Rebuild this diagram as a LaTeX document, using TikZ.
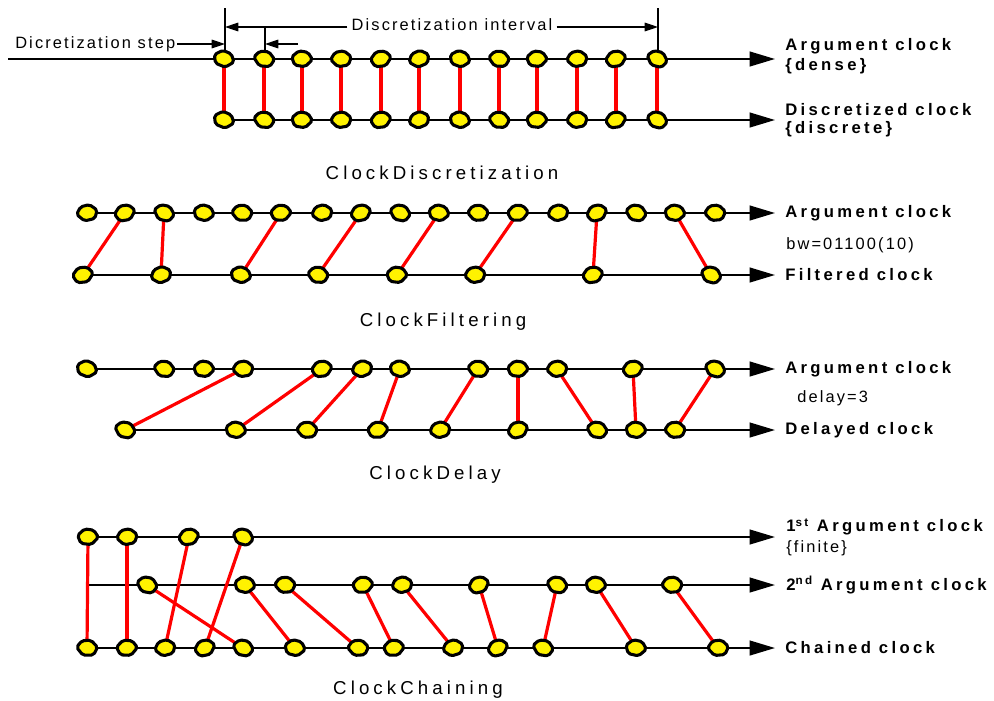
\documentclass[tikz,border=0pt]{standalone}
\usepackage{fontspec}
\setmainfont{Liberation Sans}
\newfontfamily\lblfont[LetterSpace=20]{Liberation Sans}
\newfontfamily\txtfont[LetterSpace=13]{Liberation Sans}
\newfontfamily\captfont[LetterSpace=22]{Liberation Sans}
\usetikzlibrary{arrows.meta}
\begin{document}
\begin{tikzpicture}[x=0.75pt,y=-0.75pt,
  clkline/.style={line width=1.6pt,-{Triangle[length=19pt,width=11pt]}},
  plainline/.style={line width=1.6pt},
  link/.style={red,line width=2.4pt},
  dim/.style={line width=0.8pt},
  dimarrow/.style={line width=0.8pt,-{Triangle[length=10pt,width=6.5pt]}},
  lab/.style={anchor=west,inner sep=0pt,font=\lblfont\bfseries\fontsize{12.5}{14}\selectfont},
  note/.style={anchor=west,inner sep=0pt,font=\txtfont\fontsize{12.3}{14}\selectfont},
  capt/.style={inner sep=0pt,font=\captfont\fontsize{14}{16}\selectfont},
  clk/.pic={\draw[line width=2.3pt,fill=yellow,rounded corners=1.5pt,line join=round]
     (-10.5,0) -- (-5.5,-7) -- (3.5,-8) -- (10.5,-1.5) -- (7,6.5) -- (-3.5,7.5) -- cycle;}
]
\useasboundingbox (0,0) rectangle (994,700);

% ---------------- coordinates ----------------
\foreach \x [count=\i] in {224,264,302,341,381,419,460,499,537,577,616,657}
  {\coordinate (d\i) at (\x,59); \coordinate (e\i) at (\x,120);}
\foreach \x [count=\i] in {87,125,164,204,242,281,322,361,400,439,478,518,558,597,636,675,715}
  {\coordinate (f\i) at (\x,213);}
\foreach \x [count=\i] in {83,161,241,318,397,475,593,711}
  {\coordinate (g\i) at (\x,275);}
\foreach \x [count=\i] in {87,164,204,243,322,362,400,478,518,557,633,715}
  {\coordinate (h\i) at (\x,369);}
\foreach \x [count=\i] in {125,236,307,378,440,518,597,636,675}
  {\coordinate (k\i) at (\x,430);}
\foreach \x [count=\i] in {88,127,189,243}
  {\coordinate (m\i) at (\x,537);}
\foreach \x [count=\i] in {147,245,285,363,402,479,557,596,672}
  {\coordinate (n\i) at (\x,585);}
\foreach \x [count=\i] in {87,127,165,205,243,295,358,394,453,498,543,636,718}
  {\coordinate (p\i) at (\x,648);}

% line ends
\coordinate (s1a) at (8,59);    \coordinate (s1ae) at (775,59);
\coordinate (s1be) at (775,120);
\coordinate (s2ae) at (775,213); \coordinate (s2be) at (775,275);
\coordinate (s3ae) at (775,369); \coordinate (s3be) at (775,430);
\coordinate (s4ae) at (775,537); \coordinate (s4b) at (88,585);
\coordinate (s4be) at (775,585); \coordinate (s4ce) at (775,648);

% ---------------- clock lines ----------------
\draw[clkline] (s1a) -- (s1ae);
\draw[clkline] (e1) -- (s1be);
\draw[clkline] (f1) -- (s2ae);
\draw[clkline] (g1) -- (s2be);
\draw[clkline] (h1) -- (s3ae);
\draw[clkline] (k1) -- (s3be);
\draw[clkline] (m1) -- (s4ae);
\draw[clkline] (s4b) -- (s4be);
\draw[clkline] (p1) -- (s4ce);

% ---------------- red links ----------------
\foreach \i in {1,...,12} \draw[link] (d\i) -- (e\i);
\foreach \a/\b in {2/1,3/2,6/3,8/4,10/5,12/6,14/7,16/8} \draw[link] (f\a) -- (g\b);
\foreach \a/\b in {4/1,5/2,6/3,7/4,8/5,9/6,10/7,11/8,12/9} \draw[link] (h\a) -- (k\b);
\foreach \i in {1,...,4} \draw[link] (m\i) -- (p\i);
\foreach \a/\b in {1/5,2/6,3/7,4/8,5/9,6/10,7/11,8/12,9/13} \draw[link] (n\a) -- (p\b);

% ---------------- clock ticks ----------------
\foreach \r/\n in {d/12,e/12,f/17,g/8,h/12,k/9,m/4,n/9,p/13}
  \foreach \i in {1,...,\n}{
    \pgfmathsetmacro\rot{mod(\i*47+\n*13,40)-20}
    \pgfmathsetmacro\xs{ifthenelse(mod(\i+\n,2)==0,1,-1)}
    \pic[rotate=\rot,xscale=\xs] at (\r\i) {clk};
  }

% ---------------- dimensions (discretization) ----------------
\coordinate (v1t) at (225,8);   \coordinate (v1b) at (225,50);
\coordinate (v2t) at (658,8);   \coordinate (v2b) at (658,50);
\coordinate (v3t) at (265,27);  \coordinate (v3b) at (265,50);
\draw[dim] (v1t) -- (v1b);
\draw[dim] (v2t) -- (v2b);
\draw[dim] (v3t) -- (v3b);
\node[note,anchor=center] (ivl) at (452,25) {Discretization interval};
\coordinate (i1) at (225,27); \coordinate (i2) at (658,27);
\draw[dimarrow] (ivl.west |- i1) ++(-4,0) -- (i1);
\draw[dimarrow] (ivl.east |- i2) ++(4,0) -- (i2);
\node[note] (stp) at (15,44) {Dicretization step};
\coordinate (st1) at (225,44); \coordinate (st2) at (265,44); \coordinate (st3) at (298,44);
\draw[dimarrow] (stp.east |- st1) ++(2,0) -- (st1);
\draw[dimarrow] (st3) -- (st2);

% ---------------- labels ----------------
\node[lab] (l1a) at (785,46) {Argument clock};
\node[lab] (l1b) at (785,66) {\{dense\}};
\node[lab] (l1c) at (785,110) {Discretized clock};
\node[lab] (l1d) at (785,129) {\{discrete\}};
\node[capt] (c1) at (442,173) {ClockDiscretization};

\node[lab] (l2a) at (785,213) {Argument clock};
\node[note] (l2b) at (786,245) {bw=01100(10)};
\node[lab] (l2c) at (785,275) {Filtered clock};
\node[capt] (c2) at (443,322) {ClockFiltering};

\node[lab] (l3a) at (785,369) {Argument clock};
\node[note] (l3b) at (797,398) {delay=3};
\node[lab] (l3c) at (785,430) {Delayed clock};
\node[capt] (c3) at (435,475) {ClockDelay};

\node[lab] (l4a) at (786,527) {1\textsuperscript{st} Argument clock};
\node[note] (l4b) at (786,548) {\{finite\}};
\node[lab] (l4c) at (786,585) {2\textsuperscript{nd} Argument clock};
\node[lab] (l4d) at (785,648) {Chained clock};
\node[capt] (c4) at (418,690) {ClockChaining};
\end{tikzpicture}
\end{document}
